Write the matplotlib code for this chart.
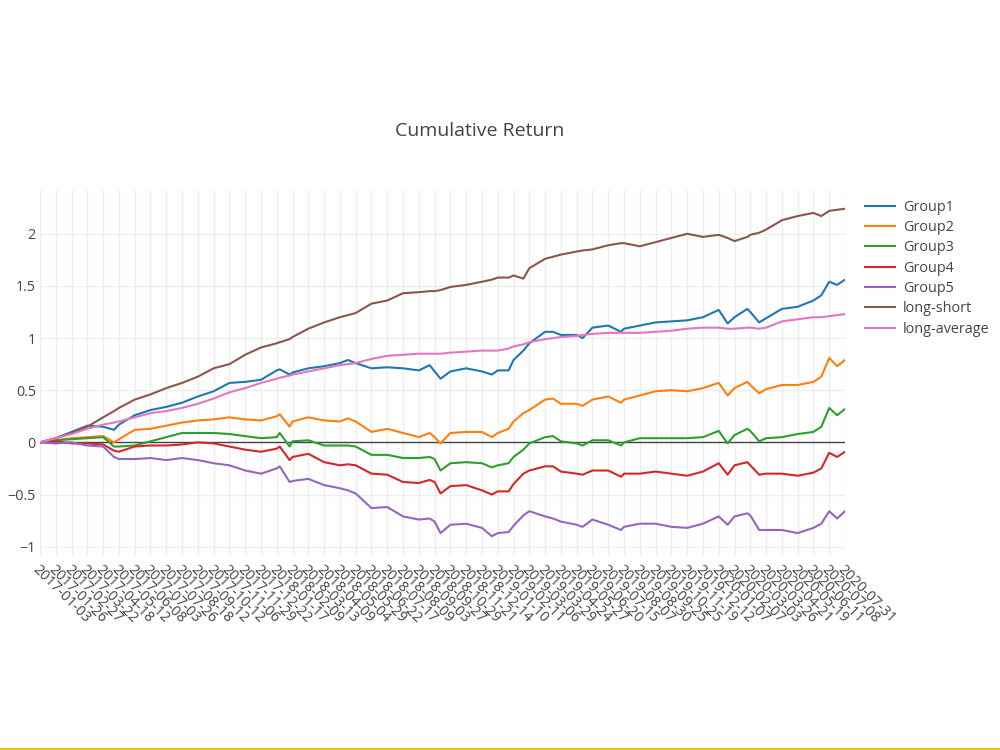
import numpy as np
import matplotlib
matplotlib.use("Agg")
import matplotlib.pyplot as plt
from matplotlib.lines import Line2D

plt.rcParams['font.family'] = ['Open Sans', 'DejaVu Sans']

# trading-day index of each sampled point (one x tick every 16 trading days)
days = [0, 16, 32, 48, 64, 75, 80, 96, 112, 128, 144, 160, 176, 192, 208, 224, 240, 243,
        253, 256, 272, 288, 304, 312, 320, 336, 352, 368, 384, 395, 400, 406, 416, 432,
        448, 458, 464, 475, 480, 490, 496, 512, 520, 528, 544, 550, 560, 576, 589, 592,
        608, 624, 640, 656, 672, 688, 697, 704, 717, 720, 729, 736, 752, 768, 784, 792,
        800, 808, 816]

tick_labels = ['2017-01-03', '2017-01-26', '2017-02-27', '2017-03-22', '2017-04-18',
               '2017-05-12', '2017-06-08', '2017-07-03', '2017-07-26', '2017-08-18',
               '2017-09-12', '2017-10-12', '2017-11-06', '2017-11-29', '2017-12-22',
               '2018-01-17', '2018-02-09', '2018-03-13', '2018-04-09', '2018-05-04',
               '2018-05-29', '2018-06-22', '2018-07-17', '2018-08-09', '2018-09-03',
               '2018-09-27', '2018-10-29', '2018-11-21', '2018-12-14', '2019-01-10',
               '2019-02-11', '2019-03-06', '2019-03-29', '2019-04-24', '2019-05-27',
               '2019-06-20', '2019-07-15', '2019-08-07', '2019-08-30', '2019-09-25',
               '2019-10-25', '2019-11-19', '2019-12-12', '2020-01-07', '2020-02-07',
               '2020-03-03', '2020-03-26', '2020-04-21', '2020-05-19', '2020-06-11',
               '2020-07-08', '2020-07-31']

group1 = [0, 0.04, 0.10, 0.16, 0.15, 0.12, 0.17, 0.26, 0.31, 0.34, 0.38, 0.44, 0.49, 0.57,
          0.58, 0.60, 0.69, 0.70, 0.65, 0.67, 0.71, 0.73, 0.76, 0.79, 0.76, 0.71, 0.72,
          0.71, 0.69, 0.74, 0.68, 0.61, 0.68, 0.71, 0.68, 0.65, 0.69, 0.69, 0.79, 0.88,
          0.95, 1.06, 1.06, 1.03, 1.03, 1.00, 1.10, 1.12, 1.06, 1.09, 1.12, 1.15, 1.16,
          1.17, 1.20, 1.27, 1.14, 1.20, 1.28, 1.25, 1.15, 1.19, 1.28, 1.30, 1.36, 1.41,
          1.54, 1.51, 1.56]
group2 = [0, 0.02, 0.04, 0.05, 0.06, 0.00, 0.03, 0.12, 0.13, 0.16, 0.19, 0.21, 0.22, 0.24,
          0.22, 0.21, 0.25, 0.27, 0.15, 0.20, 0.24, 0.21, 0.20, 0.23, 0.20, 0.10, 0.13,
          0.09, 0.05, 0.09, 0.05, -0.01, 0.09, 0.10, 0.10, 0.05, 0.09, 0.13, 0.20, 0.28,
          0.31, 0.41, 0.42, 0.37, 0.37, 0.35, 0.41, 0.44, 0.38, 0.41, 0.45, 0.49, 0.50,
          0.49, 0.52, 0.57, 0.45, 0.52, 0.58, 0.55, 0.47, 0.51, 0.55, 0.55, 0.58, 0.63,
          0.81, 0.73, 0.79]
group3 = [0, 0.02, 0.03, 0.04, 0.05, -0.04, -0.04, -0.03, 0.01, 0.05, 0.09, 0.09, 0.09,
          0.08, 0.06, 0.04, 0.05, 0.09, -0.04, 0.01, 0.02, -0.03, -0.03, -0.03, -0.04,
          -0.12, -0.12, -0.15, -0.15, -0.14, -0.16, -0.27, -0.20, -0.19, -0.20, -0.24,
          -0.22, -0.20, -0.14, -0.07, -0.01, 0.05, 0.06, 0.01, -0.01, -0.03, 0.02, 0.02,
          -0.03, 0.00, 0.04, 0.04, 0.04, 0.04, 0.05, 0.11, -0.01, 0.07, 0.13, 0.11, 0.01,
          0.04, 0.05, 0.08, 0.10, 0.15, 0.33, 0.26, 0.32]
group4 = [0, 0.01, -0.01, -0.01, -0.02, -0.08, -0.09, -0.04, -0.03, -0.03, -0.02, 0.00,
          -0.01, -0.04, -0.07, -0.09, -0.06, -0.04, -0.17, -0.14, -0.11, -0.19, -0.22,
          -0.21, -0.22, -0.30, -0.31, -0.38, -0.39, -0.36, -0.38, -0.49, -0.42, -0.41,
          -0.46, -0.50, -0.47, -0.47, -0.40, -0.30, -0.27, -0.23, -0.23, -0.28, -0.30,
          -0.31, -0.27, -0.27, -0.33, -0.30, -0.30, -0.28, -0.30, -0.32, -0.28, -0.20,
          -0.31, -0.22, -0.19, -0.22, -0.31, -0.30, -0.30, -0.32, -0.29, -0.25, -0.10,
          -0.14, -0.09]
group5 = [0, -0.01, 0.00, -0.03, -0.04, -0.14, -0.16, -0.16, -0.15, -0.17, -0.15, -0.17,
          -0.20, -0.22, -0.27, -0.30, -0.25, -0.23, -0.38, -0.37, -0.35, -0.41, -0.44,
          -0.46, -0.49, -0.63, -0.62, -0.71, -0.74, -0.73, -0.76, -0.87, -0.79, -0.78,
          -0.82, -0.90, -0.87, -0.86, -0.80, -0.70, -0.66, -0.71, -0.73, -0.76, -0.79,
          -0.81, -0.74, -0.79, -0.84, -0.81, -0.78, -0.78, -0.81, -0.82, -0.78, -0.71,
          -0.79, -0.71, -0.68, -0.70, -0.84, -0.84, -0.84, -0.87, -0.82, -0.78, -0.66,
          -0.73, -0.66]
long_short = [0, 0.04, 0.09, 0.15, 0.24, 0.30, 0.33, 0.41, 0.46, 0.52, 0.57, 0.63, 0.71,
              0.75, 0.84, 0.91, 0.95, 0.96, 0.99, 1.01, 1.09, 1.15, 1.20, 1.22, 1.24, 1.33,
              1.36, 1.43, 1.44, 1.45, 1.45, 1.46, 1.49, 1.51, 1.54, 1.56, 1.58, 1.58, 1.60,
              1.57, 1.67, 1.76, 1.78, 1.80, 1.83, 1.84, 1.85, 1.89, 1.91, 1.91, 1.88, 1.92,
              1.96, 2.00, 1.97, 1.99, 1.96, 1.93, 1.97, 1.99, 2.01, 2.04, 2.13, 2.17, 2.20,
              2.17, 2.22, 2.23, 2.24]
long_average = [0, 0.04, 0.08, 0.13, 0.17, 0.19, 0.20, 0.24, 0.28, 0.30, 0.33, 0.37, 0.42,
                0.48, 0.52, 0.57, 0.61, 0.62, 0.64, 0.65, 0.68, 0.71, 0.74, 0.75, 0.76,
                0.80, 0.83, 0.84, 0.85, 0.85, 0.85, 0.85, 0.86, 0.87, 0.88, 0.88, 0.88,
                0.90, 0.92, 0.94, 0.96, 0.99, 1.00, 1.01, 1.02, 1.03, 1.04, 1.05, 1.05,
                1.05, 1.05, 1.06, 1.07, 1.09, 1.10, 1.10, 1.09, 1.09, 1.10, 1.10, 1.09,
                1.10, 1.16, 1.18, 1.20, 1.20, 1.21, 1.22, 1.23]

names = ['Group1', 'Group2', 'Group3', 'Group4', 'Group5', 'long-short', 'long-average']
series = [group1, group2, group3, group4, group5, long_short, long_average]
colors = ['#1f77b4', '#ff7f0e', '#2ca02c', '#d62728', '#9467bd', '#8c564b', '#e377c2']

for s in series:
    assert len(s) == len(days), len(s)

fig = plt.figure(figsize=(10, 7.5), dpi=100)
ax = fig.add_axes([0.040, 0.26, 0.805, 0.4867])

for name, vals, c in zip(names, series, colors):
    ax.plot(days, vals, color=c, lw=1.5, label=name)

ax.axhline(0, color='#444444', lw=1, zorder=1)

ticks = np.arange(len(tick_labels)) * 16
ax.set_xticks(ticks)
ax.set_xticklabels(tick_labels, rotation=-45, ha='left', va='top',
                   rotation_mode='anchor', fontsize=10.4, color='#444444')
ax.set_yticks([-1, -0.5, 0, 0.5, 1, 1.5, 2])
ax.set_yticklabels(['−1', '−0.5', '0', '0.5', '1', '1.5', '2'], fontsize=10.4, color='#444444')
ax.tick_params(axis='both', length=0)
ax.tick_params(axis='x', pad=5)
ax.tick_params(axis='y', pad=3)
ax.set_xlim(0, 816)
ax.set_ylim(-1.08, 2.42)
ax.grid(True, color='#eeeeee', lw=1)
ax.set_axisbelow(True)
for sp in ax.spines.values():
    sp.set_visible(False)

fig.text(0.48, 0.826, 'Cumulative Return', ha='center', va='center',
         fontsize=14, color='#444444')

fig.legend(loc='upper left', bbox_to_anchor=(0.852, 0.751), frameon=False,
           fontsize=10.4, handlelength=2.08, labelspacing=0.37, handletextpad=0.55,
           labelcolor='#444444')

# yellow strip along the bottom edge of the screenshot
fig.add_artist(Line2D([0, 1], [0.002, 0.002], color='#f2c200', lw=1.5))

fig.savefig('out.png', dpi=100)
